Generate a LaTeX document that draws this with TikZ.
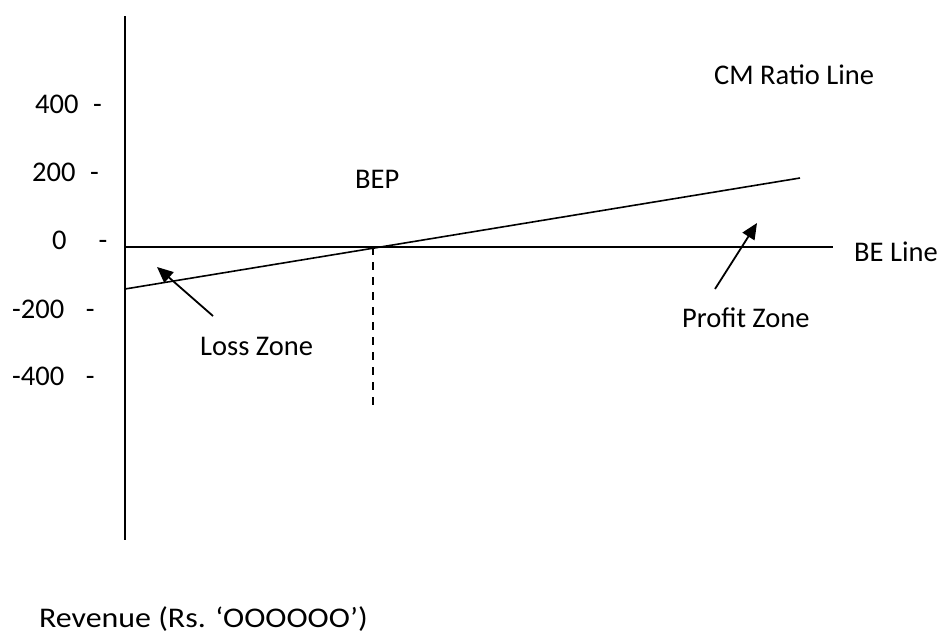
\documentclass[tikz,border=0pt]{standalone}
\usepackage{fontspec}
\usepackage{graphicx}
\setmainfont{Carlito}
\usetikzlibrary{arrows.meta}
\begin{document}
\begin{tikzpicture}[x=1pt,y=-1pt,
  lbl/.style={anchor=base west,inner sep=0pt,font=\fontsize{28.5}{31}\selectfont},
  axis/.style={line width=1.6pt},
  graphline/.style={line width=1.6pt},
  guide/.style={line width=1.6pt,dash pattern=on 8pt off 7pt},
  pointer/.style={line width=1.8pt,-{Triangle[length=16pt,width=14pt]}}]
  \useasboundingbox (0,0) rectangle (939,633);

  % axes
  \coordinate (ytop) at (125,16);
  \coordinate (ybot) at (125,540);
  \coordinate (origin) at (125,247);
  \coordinate (xend) at (833,247);
  \draw[axis] (ytop) -- (ybot);
  \draw[axis] (origin) -- (xend);

  % contribution margin line and break-even point
  \coordinate (cmstart) at (125,289);
  \coordinate (cmend) at (800,178);
  \coordinate (bep) at (373,247);
  \coordinate (bepfoot) at (373,410);
  \draw[graphline] (cmstart) -- (cmend);
  \draw[guide] (bep) -- (bepfoot);

  % vertical scale
  \node[lbl] (t400) at (35,113) {400\hspace{14.5pt}-};
  \node[lbl] (t200) at (32,181) {200\hspace{14.5pt}-};
  \node[lbl] (t0) at (52,249) {0\hspace{32pt}-};
  \node[lbl] (tm200) at (12,318) {-200\hspace{21.5pt}-};
  \node[lbl] (tm400) at (12,385) {-400\hspace{21.5pt}-};

  % labels
  \node[lbl] (cmlabel) at (714,84) {CM Ratio Line};
  \node[lbl] (beplabel) at (355,188) {BEP};
  \node[lbl] (belabel) at (854,261) {BE Line};
  \node[lbl] (profit) at (682,327) {Profit Zone};
  \node[lbl] (loss) at (200,355) {Loss Zone};
  \node[lbl] (revenue) at (39,627)
    {\scalebox{1.12}[1]{Revenue (Rs. ‘OOOOOO’)}};

  % zone pointers
  \coordinate (losstail) at (213,316);
  \coordinate (losstip) at (157,267);
  \coordinate (profittail) at (715,289);
  \coordinate (profittip) at (757,223);
  \draw[pointer] (losstail) -- (losstip);
  \draw[pointer] (profittail) -- (profittip);
\end{tikzpicture}
\end{document}
